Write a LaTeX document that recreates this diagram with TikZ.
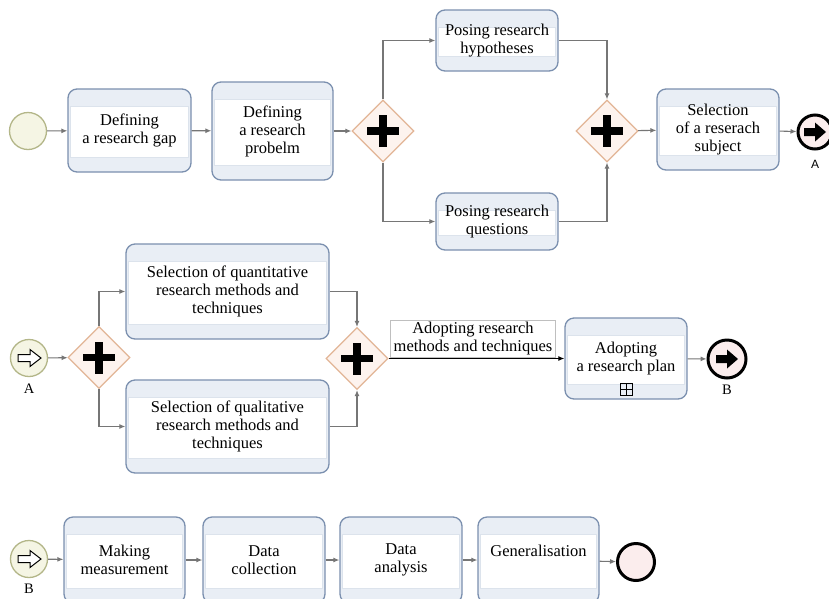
\documentclass[tikz,border=0pt]{standalone}
\usepackage{fontspec}
\setmainfont{Liberation Serif}
\newfontfamily\labsans{Liberation Sans}
\usetikzlibrary{shapes.geometric,arrows.meta,positioning}
\definecolor{taskborder}{HTML}{7B90AF}
\definecolor{taskband}{HTML}{E9EEF5}
\definecolor{innerline}{HTML}{DCE3EC}
\definecolor{gwborder}{HTML}{E2B596}
\definecolor{gwfill}{HTML}{FDF3EE}
\definecolor{startborder}{HTML}{B3B688}
\definecolor{startfill}{HTML}{F5F5E4}
\definecolor{endfill}{HTML}{FBEDED}
\definecolor{flow}{HTML}{767676}
\newcommand{\taskfont}{\fontsize{16.5}{18}\selectfont}
\tikzset{
  task/.style={rectangle, rounded corners=9pt, draw=taskborder, line width=1.3pt,
    fill=taskband, align=center, inner sep=0pt, font=\taskfont,
    path picture={\draw[sharp corners, fill=white, draw=innerline, line width=0.6pt]
      ([xshift=2.5pt,yshift=-17pt]path picture bounding box.north west) rectangle
      ([xshift=-2.5pt,yshift=15pt]path picture bounding box.south east);}},
  gw/.style={diamond, draw=gwborder, fill=gwfill, line width=1.2pt, inner sep=0pt,
    minimum width=62pt, minimum height=62pt, aspect=1},
  startev/.style={circle, draw=startborder, fill=startfill, line width=1.3pt,
    minimum size=37pt, inner sep=0pt},
  startlink/.style={startev, path picture={\draw[black, fill=white, line width=1pt,
      shift={(path picture bounding box.center)}]
      (-11pt,-3.5pt) -- (1pt,-3.5pt) -- (1pt,-8.5pt) -- (12pt,0pt) -- (1pt,8.5pt)
      -- (1pt,3.5pt) -- (-11pt,3.5pt) -- cycle;}},
  endev/.style={circle, draw=black, fill=endfill, line width=3pt,
    minimum size=36pt, inner sep=0pt},
  endlink/.style={endev, path picture={\fill[black,
      shift={(path picture bounding box.center)}]
      (-11pt,-4pt) -- (0pt,-4pt) -- (0pt,-9.5pt) -- (11pt,0pt) -- (0pt,9.5pt)
      -- (0pt,4pt) -- (-11pt,4pt) -- cycle;}},
  flowline/.style={draw=flow, line width=1.1pt, -{Latex[length=6pt,width=5pt]}},
  evlabel/.style={font=\fontsize{14.5}{16}\selectfont, inner sep=0pt},
  flowlabel/.style={draw=black!25, fill=white, line width=0.5pt, align=center,
    font=\taskfont, inner xsep=3pt, inner ysep=2pt}
}
\newcommand{\gwplus}[1]{%
  \fill ([shift={(-16pt,-3.6pt)}]#1.center) rectangle ([shift={(16pt,3.6pt)}]#1.center);
  \fill ([shift={(-3.6pt,-16pt)}]#1.center) rectangle ([shift={(3.6pt,16pt)}]#1.center);}
\begin{document}
\begin{tikzpicture}[x=1pt,y=-1pt]
\useasboundingbox (0,0) rectangle (829,598);
\fill[white] (0,0) rectangle (829,598);
% ---------- row 1 ----------
\node[startev] (s1) at (28,131) {};
\node[task, minimum width=123pt, minimum height=83pt] (t1) at (129.5,130.5) {Defining\\a research gap};
\node[task, minimum width=121pt, minimum height=98pt] (t2) at (272.5,131) {Defining\\a research\\probelm};
\node[gw] (g1) at (383,131) {};
\node[task, minimum width=122pt, minimum height=61pt] (t3) at (497,40.5) {Posing research\\hypotheses};
\node[task, minimum width=122pt, minimum height=57pt] (t4) at (497,221.5) {Posing research\\questions};
\node[gw] (g2) at (607,131) {};
\node[task, minimum width=122pt, minimum height=81pt] (t5) at (718,129.5) {Selection\\of a reserach\\subject};
\node[endlink, minimum size=34pt] (e1) at (815,132) {};
\node[inner sep=0pt, font=\labsans\fontsize{12}{14}\selectfont] (la1) at (815,164) {A};
\gwplus{g1}\gwplus{g2}
\draw[flowline] (s1) -- (t1);
\draw[flowline] (t1) -- (t2);
\draw[flowline] (t2) -- (g1);
\draw[flowline] (g1.north) |- (t3.west);
\draw[flowline] (g1.south) |- (t4.west);
\draw[flowline] (t3.east) -| (g2.north);
\draw[flowline] (t4.east) -| (g2.south);
\draw[flowline] (g2) -- (t5);
\draw[flowline] (t5) -- (e1);
% ---------- row 2 ----------
\node[startlink] (s2) at (29,358) {};
\node[evlabel] (la2) at (29,389) {A};
\node[gw] (g3) at (99,357.5) {};
\node[task, minimum width=203pt, minimum height=95pt] (t6) at (227.5,291.5) {Selection of quantitative\\research methods and\\techniques};
\node[task, minimum width=203pt, minimum height=93pt] (t7) at (227.5,426.5) {Selection of qualitative\\research methods and\\techniques};
\node[gw] (g4) at (357,358.5) {};
\node[task, minimum width=122pt, minimum height=81pt] (t8) at (626,358.5) {Adopting\\a research plan};
\draw[line width=1pt] (620,383) rectangle (632,395) (626,383) -- (626,395) (620,389) -- (632,389);
\node[endlink, minimum size=38pt] (e2) at (727,359) {};
\node[evlabel] (lb2) at (727,390) {B};
\gwplus{g3}\gwplus{g4}
\draw[flowline] (s2) -- (g3);
\draw[flowline] (g3.north) |- (t6.west);
\draw[flowline] (g3.south) |- (t7.west);
\draw[flowline] (t6.east) -| (g4.north);
\draw[flowline] (t7.east) -| (g4.south);
\draw[flowline, draw=black] (g4) -- node[flowlabel, pos=0.48, anchor=south, yshift=1.5pt] (fl) {Adopting research\\methods and techniques} (t8);
\draw[flowline] (t8) -- (e2);
% ---------- row 3 ----------
\node[startlink] (s3) at (29,559) {};
\node[evlabel] (lb3) at (29,589) {B};
\node[task, minimum width=121pt, minimum height=86pt] (t9) at (124.5,560) {Making\\measurement};
\node[task, minimum width=122pt, minimum height=86pt] (t10) at (264,560) {Data\\collection};
\node[task, minimum width=122pt, minimum height=86pt] (t11) at (401,560) {Data\\analysis};
\node[task, minimum width=121pt, minimum height=86pt] (t12) at (538.5,560) {Generalisation\\\phantom{x}};
\node[endev, minimum size=37pt] (e3) at (636,562) {};
\draw[flowline] (s3) -- (t9);
\draw[flowline] (t9) -- (t10);
\draw[flowline] (t10) -- (t11);
\draw[flowline] (t11) -- (t12);
\draw[flowline] (t12) -- (e3);
\end{tikzpicture}
\end{document}
